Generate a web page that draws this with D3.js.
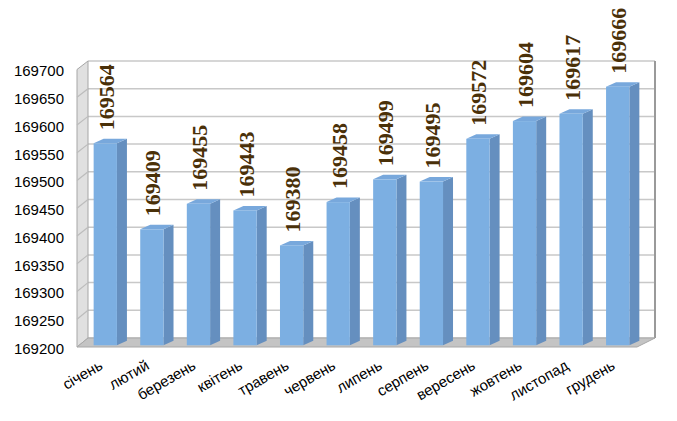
<!DOCTYPE html>
<html>
<head>
<meta charset="utf-8">
<script src="https://cdn.jsdelivr.net/npm/d3@7"></script>
<style>
  html, body { margin: 0; padding: 0; background: #ffffff; }
  svg { display: block; }
</style>
</head>
<body>
<svg id="chart" width="677" height="421"></svg>
<script>
const months = ["січень","лютий","березень","квітень","травень","червень","липень","серпень","вересень","жовтень","листопад","грудень"];
const values = [169564,169409,169455,169443,169380,169458,169499,169495,169572,169604,169617,169666];
const yTicks = [169200,169250,169300,169350,169400,169450,169500,169550,169600,169650,169700];

const svg = d3.select("#chart");
const vMin = 169200, vMax = 169700;

// front plane, back wall and bar front scales (oblique 3D)
const yFront = d3.scaleLinear().domain([vMin, vMax]).range([347, 69.5]);
const yBack  = d3.scaleLinear().domain([vMin, vMax]).range([338, 61]);
const yBar   = d3.scaleLinear().domain([vMin, vMax]).range([345.3, 67.8]);
const x = d3.scaleBand().domain(months).range([82, 641]).paddingInner(0.5).paddingOuter(0.25);

const frontL = 77, frontR = 637, backL = 88, backR = 655;
const barDx = 10, barDy = -4.5;

const pts = a => a.map(p => p.join(",")).join(" ");

// back wall
svg.append("rect").attr("x", backL).attr("y", yBack(vMax)).attr("width", backR - backL)
  .attr("height", yBack(vMin) - yBack(vMax)).attr("fill", "#ffffff");
svg.append("g").selectAll("line").data(yTicks).join("line")
  .attr("x1", backL).attr("x2", backR)
  .attr("y1", d => yBack(d)).attr("y2", d => yBack(d))
  .attr("stroke", "#c8c8c8").attr("stroke-width", 1.5);

// left side wall
svg.append("polygon")
  .attr("points", pts([[frontL, yFront(vMax)], [backL, yBack(vMax)], [backL, yBack(vMin)], [frontL, yFront(vMin)]]))
  .attr("fill", "#e0e0e0").attr("stroke", "#a6a6a6").attr("stroke-width", 1);
svg.append("g").selectAll("line").data(yTicks.slice(1, -1)).join("line")
  .attr("x1", frontL).attr("x2", backL)
  .attr("y1", d => yFront(d)).attr("y2", d => yBack(d))
  .attr("stroke", "#bcbcbc").attr("stroke-width", 1.2);

// right edge of back wall
svg.append("line").attr("x1", backR).attr("x2", backR)
  .attr("y1", yBack(vMax)).attr("y2", yBack(vMin))
  .attr("stroke", "#9a9a9a").attr("stroke-width", 2);

// floor
svg.append("polygon")
  .attr("points", pts([[frontL, yFront(vMin)], [backL, yBack(vMin)], [backR, yBack(vMin)], [frontR, yFront(vMin)]]))
  .attr("fill", "#c4c4c4").attr("stroke", "#a8a8a8").attr("stroke-width", 1);

// bars
const bars = svg.append("g");
months.forEach((m, i) => {
  const v = values[i];
  const x0 = x(m), x1 = x(m) + x.bandwidth();
  const yt = yBar(v), yb = yBar(vMin);
  bars.append("polygon")
    .attr("points", pts([[x1, yt], [x1 + barDx, yt + barDy], [x1 + barDx, yb + barDy], [x1, yb]]))
    .attr("fill", "#658fbf");
  bars.append("polygon")
    .attr("points", pts([[x0, yt], [x0 + barDx, yt + barDy], [x1 + barDx, yt + barDy], [x1, yt]]))
    .attr("fill", "#78a8dc");
  bars.append("rect").attr("x", x0).attr("y", yt).attr("width", x1 - x0).attr("height", yb - yt)
    .attr("fill", "#7cafe2");
});

// value labels
svg.append("g").selectAll("text").data(months).join("text")
  .attr("transform", (m, i) => `translate(${x(m) + x.bandwidth() / 2 + 1},${yBar(values[i]) - 13}) rotate(-90)`)
  .attr("dy", "0.34em")
  .attr("text-anchor", "start")
  .attr("font-family", "'Liberation Serif', 'Times New Roman', serif")
  .attr("font-weight", "bold")
  .attr("font-size", "22px")
  .attr("fill", "#4a3008")
  .text((m, i) => values[i]);

// y axis labels
svg.append("g").selectAll("text").data(yTicks).join("text")
  .attr("x", 64).attr("y", d => yFront(d) + 1.5)
  .attr("dy", "0.35em")
  .attr("text-anchor", "end")
  .attr("font-family", "'Liberation Sans', Arial, sans-serif")
  .attr("font-size", "15px")
  .attr("fill", "#000")
  .text(d => d);

// x axis labels
svg.append("g").selectAll("text").data(months).join("text")
  .attr("transform", m => `translate(${x(m) + x.bandwidth() / 2 - 7},${359}) rotate(-30)`)
  .attr("dy", "0.72em")
  .attr("text-anchor", "end")
  .attr("font-family", "'Liberation Sans', Arial, sans-serif")
  .attr("font-size", "15px")
  .attr("fill", "#000")
  .text(m => m);
</script>
</body>
</html>
